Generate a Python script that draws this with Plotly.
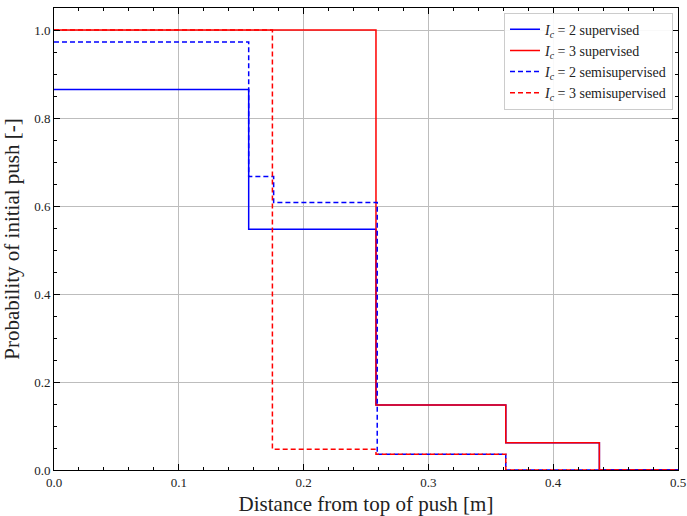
import plotly.graph_objects as go

# step data: x = start of each level, y = level value
x_ic2_sup = [0.0, 0.156, 0.258, 0.362, 0.437, 0.5]
y_ic2_sup = [0.865, 0.547, 0.148, 0.062, 0.0, 0.0]

x_ic3_sup = [0.0, 0.258, 0.362, 0.437, 0.5]
y_ic3_sup = [1.0, 0.148, 0.062, 0.0, 0.0]

x_ic2_semi = [0.0, 0.156, 0.176, 0.259, 0.362, 0.5]
y_ic2_semi = [0.973, 0.667, 0.608, 0.036, 0.0, 0.0]

x_ic3_semi = [0.0, 0.175, 0.258, 0.362, 0.5]
y_ic3_semi = [1.0, 0.047, 0.036, 0.0, 0.0]

FONT = "Liberation Serif"

fig = go.Figure()
series = [
    (x_ic2_sup, y_ic2_sup, "blue", "solid", "<i>I</i><sub><i>c</i></sub> = 2 supervised"),
    (x_ic3_sup, y_ic3_sup, "red", "solid", "<i>I</i><sub><i>c</i></sub> = 3 supervised"),
    (x_ic2_semi, y_ic2_semi, "blue", "dash", "<i>I</i><sub><i>c</i></sub> = 2 semisupervised"),
    (x_ic3_semi, y_ic3_semi, "red", "dash", "<i>I</i><sub><i>c</i></sub> = 3 semisupervised"),
]
for xs, ys, c, d, name in series:
    fig.add_trace(go.Scatter(x=xs, y=ys, mode="lines", name=name,
                             line=dict(color=c, dash=d if d == "solid" else "5px,3px", width=1.5, shape="hv")))

axis_common = dict(
    showline=True, linecolor="black", linewidth=1, mirror="allticks",
    ticks="inside", ticklen=6, tickcolor="black", tickwidth=1,
    showgrid=True, gridcolor="#bdbdbd", gridwidth=1, zeroline=False,
    tickfont=dict(family=FONT, size=13, color="#222"),
    automargin=False,
)
fig.update_xaxes(range=[0, 0.5], dtick=0.1, tickformat=".1f",
                 minor=dict(dtick=0.02, ticks="inside", ticklen=3, tickcolor="black", showgrid=False),
                 title=dict(text="Distance from top of push [m]", font=dict(family=FONT, size=21, color="#222"), standoff=8),
                 **axis_common)
fig.update_yaxes(range=[0, 1.05], dtick=0.2, tickformat=".1f",
                 minor=dict(dtick=0.05, ticks="inside", ticklen=3, tickcolor="black", showgrid=False),
                 title=dict(text="Probability of initial push [-]", font=dict(family=FONT, size=21, color="#222"), standoff=8),
                 **axis_common)

fig.update_layout(
    width=687, height=516,
    margin=dict(l=54, r=9, t=8, b=46),
    paper_bgcolor="white", plot_bgcolor="white",
    font=dict(family=FONT, color="#222"),
    legend=dict(x=0.992, y=0.99, xanchor="right", yanchor="top",
                bgcolor="rgba(255,255,255,0.9)", bordercolor="#cccccc", borderwidth=1,
                font=dict(family=FONT, size=14), tracegroupgap=0, itemwidth=30),
    showlegend=True,
)

fig.write_html("out.html")
